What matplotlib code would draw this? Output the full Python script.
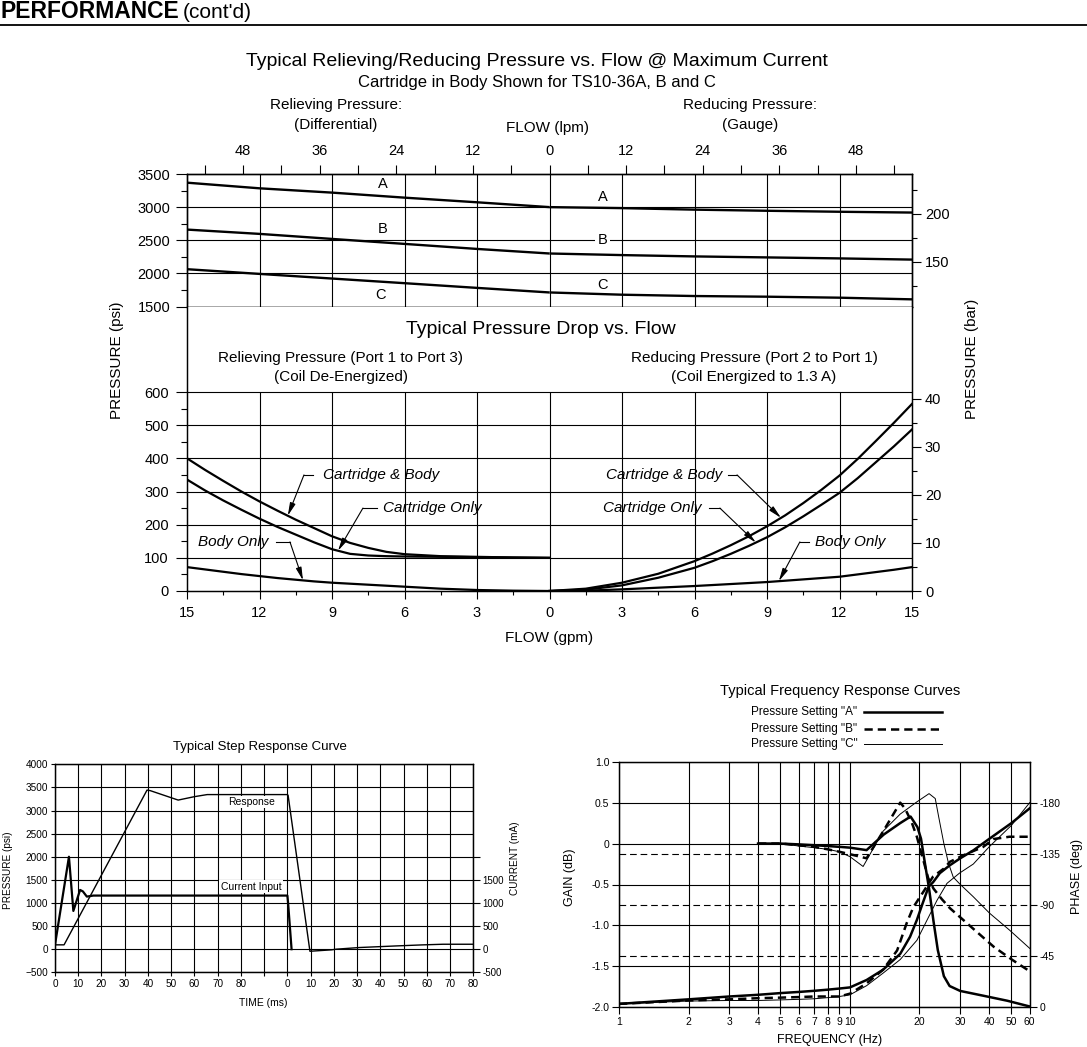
#!/usr/bin/env python
# -*- coding: utf-8 -*-
import numpy as np
import matplotlib
matplotlib.use('Agg')
import matplotlib.pyplot as plt
from matplotlib.lines import Line2D
from matplotlib.ticker import NullLocator

W, H = 1087, 1047
PSI_PER_BAR = 14.5038
LPM_PER_GPM = 3.78541

# relieving / reducing pressure @ max current (psi), flow in gpm
flow_gpm = [0, 3, 6, 9, 12, 15]
relieving_A = [3000, 3073, 3143, 3219, 3284, 3369]
relieving_B = [2300, 2369, 2445, 2520, 2596, 2661]
relieving_C = [1712, 1781, 1852, 1922, 1992, 2063]
reducing_A = [3000, 2985, 2962, 2945, 2930, 2918]
reducing_B = [2300, 2276, 2256, 2241, 2226, 2208]
reducing_C = [1712, 1678, 1658, 1648, 1633, 1608]

# pressure drop vs flow (psi)
drop_flow = [0, 1.5, 3, 4.5, 6, 6.75, 7.5, 8.25, 9, 9.75, 10.5, 11.25, 12, 12.75, 13.5, 14.25, 15]
relieve_cart_body = [100, 101, 103, 105, 111, 118, 130, 145, 165, 190, 215, 242, 270, 300, 332, 365, 400]
relieve_cart_only = [100, 101, 102, 103, 104, 105, 107, 112, 126, 147, 170, 193, 218, 245, 273, 303, 336]
relieve_body_only = [0, 1, 3, 7, 13, 16, 19, 22, 25, 29, 34, 39, 45, 51, 58, 65, 72]
reduce_cart_body = [0, 7, 25, 52, 90, 113, 138, 165, 195, 228, 265, 305, 348, 398, 452, 507, 564]
reduce_cart_only = [0, 4, 17, 40, 70, 90, 112, 136, 162, 192, 225, 260, 296, 340, 388, 436, 487]
reduce_body_only = [0, 1, 5, 10, 15, 18, 21, 24, 27, 31, 35, 39, 43, 50, 57, 64, 72]

# step response (time axis: 0-80 ms then a second 0-80 ms window starting at 100)
resp_t = [0, 3.9, 39.6, 41, 53, 60, 65.5, 100, 100.3, 109.7, 119, 121, 131, 147, 158, 167, 180]
resp_psi = [94, 94, 3442, 3430, 3226, 3300, 3345, 3345, 3330, -45, -14, 0, 36, 71, 93, 107, 107]
curr_t = [0, 6, 7.9, 10.8, 12, 13.7, 16.5, 100, 100.3, 101.8]
curr_ma = [94, 2000, 828, 1282, 1250, 1138, 1160, 1160, 1000, 0]

# frequency response
gain_A_f = [4, 5, 6, 7, 8, 9, 10, 11.8, 14, 16.5, 18.3, 19.6, 20.3, 21, 22, 23, 24, 25.5, 27, 30, 38, 48, 60]
gain_A = [0, 0, -0.01, -0.02, -0.03, -0.04, -0.05, -0.08, 0.11, 0.25, 0.33, 0.2, 0.06, -0.2, -0.55,
          -0.95, -1.3, -1.62, -1.74, -1.8, -1.86, -1.92, -1.99]
gain_B_f = [4, 5, 6, 7, 8, 9, 10, 11.8, 14, 16.5, 17.3, 18.5, 19.5, 20.2, 21, 21.8, 23, 25, 27.1, 30,
            34.8, 41.9, 50.4, 60]
gain_B = [0, 0, -0.02, -0.04, -0.07, -0.1, -0.13, -0.18, 0.16, 0.5, 0.43, 0.26, 0.08, -0.08, -0.25,
          -0.42, -0.55, -0.68, -0.79, -0.9, -1.06, -1.26, -1.42, -1.56]
gain_C_f = [4, 5, 6, 7, 8, 9, 10, 11.4, 13.9, 16.5, 19.5, 22, 23.4, 24.2, 25.5, 26.7, 28, 29.8, 34.2,
            40.2, 49.2, 60]
gain_C = [0, 0, -0.03, -0.05, -0.07, -0.1, -0.16, -0.28, 0.15, 0.36, 0.51, 0.61, 0.55, 0.33, 0.0,
          -0.24, -0.41, -0.49, -0.65, -0.85, -1.06, -1.28]
phase_A_f = [1, 2, 3, 4, 5, 6, 7, 8, 9, 10, 11.8, 13.9, 16.5, 18.2, 19.5, 20.6, 21.9, 22.9, 24.5, 27.1,
             30, 34.2, 40, 50, 60]
phase_A = [-3, -7, -9.5, -11, -12.5, -13.5, -14.5, -15.5, -16.5, -17.5, -24, -33, -47, -62, -77, -91,
           -106, -110, -118, -125, -131, -138, -148, -162, -175]
phase_B_f = [1, 2, 3, 4, 5, 6, 7, 8, 9, 10, 11.8, 13.9, 16, 17.6, 18.8, 21, 22.9, 25.5, 27.1, 32, 37.7,
             41.9, 49, 60]
phase_B = [-3, -6, -7, -8, -8.5, -9, -9.5, -9.5, -9.5, -12, -21, -33, -50, -74, -88, -103, -115, -122,
           -128, -135, -141, -148, -150, -150]
phase_C_f = [1, 2, 3, 4, 5, 6, 7, 8, 9, 10, 11.8, 13.9, 16.5, 19.5, 21.6, 23.8, 26.3, 29.8, 34.2, 40,
             50, 60]
phase_C = [-3, -5.5, -6, -6, -6.5, -7, -7.5, -8.5, -9.5, -11, -19, -30, -42, -59, -77, -94, -109, -118,
           -126, -141, -160, -180]
freq_ticks = [1, 2, 3, 4, 5, 6, 7, 8, 9, 10, 20, 30, 40, 50, 60]

plt.rcParams['font.family'] = ['Liberation Sans', 'DejaVu Sans']
fig = plt.figure(figsize=(W / 100, H / 100), dpi=100)
fig.patch.set_facecolor('white')


def px(x, y):
    return x / W, 1 - y / H


def box(l, t, r, b):
    return [l / W, 1 - b / H, (r - l) / W, (b - t) / H]


K = 'black'
LW_GRID = 0.8

# header
fig.text(*px(0, 12), 'PERFORMANCE', fontsize=16.5, weight='bold', va='center')
fig.text(*px(183, 12), "(cont'd)", fontsize=15, va='center')
fig.add_artist(Line2D([0, 1], [1 - 25 / H] * 2, color=K, lw=1.3))

fig.text(*px(537, 61), 'Typical Relieving/Reducing Pressure vs. Flow @ Maximum Current',
         fontsize=14, ha='center', va='center')
fig.text(*px(537, 82), 'Cartridge in Body Shown for TS10-36A, B and C', fontsize=12,
         ha='center', va='center')
fig.text(*px(336, 105), 'Relieving Pressure:', fontsize=11, ha='center', va='center')
fig.text(*px(336, 125), '(Differential)', fontsize=11, ha='center', va='center')
fig.text(*px(750, 105), 'Reducing Pressure:', fontsize=11, ha='center', va='center')
fig.text(*px(750, 125), '(Gauge)', fontsize=11, ha='center', va='center')
fig.text(*px(547, 128), 'FLOW (lpm)', fontsize=11, ha='center', va='center')

# ---------- upper panel ----------
ax_up = fig.add_axes(box(187, 174, 912, 306.5))
ax_up.set_xlim(-15, 15)
ax_up.set_ylim(1500, 3500)
for v in [-12, -9, -6, -3, 0, 3, 6, 9, 12]:
    ax_up.axvline(v, color=K, lw=LW_GRID, zorder=1)
for h in [2000, 2500, 3000]:
    ax_up.axhline(h, color=K, lw=LW_GRID, zorder=1)
f = np.array(flow_gpm)
for rel, red in [(relieving_A, reducing_A), (relieving_B, reducing_B), (relieving_C, reducing_C)]:
    ax_up.plot(-f, rel, color=K, lw=1.7, zorder=3, solid_capstyle='butt')
    ax_up.plot(f, red, color=K, lw=1.7, zorder=3, solid_capstyle='butt')
for lab, x, y in [('A', -6.9, 3352), ('B', -6.9, 2666), ('C', -7.0, 1675),
                  ('A', 2.2, 3154), ('C', 2.2, 1829)]:
    ax_up.text(x, y, lab, fontsize=10.5, ha='center', va='center')
ax_up.text(2.2, 2500, 'B', fontsize=10.5, ha='center', va='center', zorder=2,
           bbox=dict(facecolor='white', edgecolor='none', pad=2))

minor_x = sorted([s * v for v in np.arange(1.5, 15, 3) for s in (-1, 1)])
ax_up.set_xticks([])
ax_up.set_xticks(minor_x, minor=True)
ax_up.set_yticks(np.arange(1500, 3501, 500))
ax_up.set_yticks(np.arange(1750, 3300, 500), minor=True)
ax_up.tick_params(axis='x', which='minor', direction='out', length=9, width=0.8)
ax_up.tick_params(axis='y', which='major', length=8, width=0.8, labelsize=10.5, pad=4)
ax_up.tick_params(axis='y', which='minor', length=4, width=0.8)

ax_lpm = ax_up.twiny()
ax_lpm.set_xlim(-15, 15)
lpm_major = [-48, -36, -24, -12, 0, 12, 24, 36, 48]
lpm_minor = [-54, -42, -30, -18, -6, 6, 18, 30, 42, 54]
ax_lpm.set_xticks([v / LPM_PER_GPM for v in lpm_major])
ax_lpm.set_xticklabels([str(abs(v)) for v in lpm_major])
ax_lpm.set_xticks([v / LPM_PER_GPM for v in lpm_minor], minor=True)
ax_lpm.tick_params(which='both', direction='out', length=6.5, width=0.8, labelsize=10.5, pad=5)

ax_ub = ax_up.twinx()
ax_ub.set_ylim(1500 / PSI_PER_BAR, 3500 / PSI_PER_BAR)
ax_ub.set_yticks([150, 200])
ax_ub.set_yticks([125, 175, 225], minor=True)
ax_ub.tick_params(which='major', length=6.3, width=0.8, labelsize=10.5, pad=3)
ax_ub.tick_params(which='minor', length=3.6, width=0.8)
for a in (ax_up, ax_lpm, ax_ub):
    for s in a.spines.values():
        s.set_linewidth(0.9)

# ---------- lower panel (pressure drop) ----------
ytop = 600 * (591 - 306.5) / (591 - 392)
ax_lo = fig.add_axes(box(187, 306.5, 912, 591))
ax_lo.set_xlim(-15, 15)
ax_lo.set_ylim(0, ytop)
ax_lo.spines['top'].set_visible(False)
ax_lo.hlines(np.arange(100, 601, 100), -15, 15, color=K, lw=LW_GRID, zorder=1)
ax_lo.vlines([-12, -9, -6, -3, 0, 3, 6, 9, 12], 0, 600, color=K, lw=LW_GRID, zorder=1)
d = np.array(drop_flow)
for rel, red in [(relieve_cart_body, reduce_cart_body), (relieve_cart_only, reduce_cart_only),
                 (relieve_body_only, reduce_body_only)]:
    ax_lo.plot(-d, rel, color=K, lw=1.6, zorder=3)
    ax_lo.plot(d, red, color=K, lw=1.6, zorder=3)

gx = np.arange(-15, 16, 3)
ax_lo.set_xticks(gx)
ax_lo.set_xticklabels([str(abs(v)) for v in gx])
ax_lo.set_xticks(minor_x, minor=True)
ax_lo.set_yticks(np.arange(0, 601, 100))
ax_lo.set_yticks(np.arange(50, 600, 100), minor=True)
ax_lo.tick_params(axis='x', which='major', length=6, width=0.8, labelsize=10.5, pad=5)
ax_lo.tick_params(axis='x', which='minor', length=3, width=0.8)
ax_lo.tick_params(axis='y', which='major', length=8, width=0.8, labelsize=10.5, pad=5)
ax_lo.tick_params(axis='y', which='minor', length=4, width=0.8)

ax_lb = ax_lo.twinx()
ax_lb.set_ylim(0, ytop / PSI_PER_BAR)
ax_lb.spines['top'].set_visible(False)
ax_lb.set_yticks(np.arange(0, 41, 10))
ax_lb.set_yticks(np.arange(5, 40, 10), minor=True)
ax_lb.tick_params(which='major', length=6.3, width=0.8, labelsize=10.5, pad=3)
ax_lb.tick_params(which='minor', length=3.6, width=0.8)
for a in (ax_lo, ax_lb):
    for s in a.spines.values():
        s.set_linewidth(0.9)

# leader annotations: label, text pos, ha, leader start, bend, tip flow (signed), curve
notes = [
    ('Cartridge & Body', (-9.39, 350), 'left', -9.77, -10.16, -10.83, relieve_cart_body),
    ('Cartridge Only', (-6.89, 250), 'left', -7.14, -7.72, -8.75, relieve_cart_only),
    ('Body Only', (-11.65, 148), 'right', -11.32, -10.74, -10.2, relieve_body_only),
    ('Cartridge & Body', (7.14, 350), 'right', 7.39, 7.76, 9.58, reduce_cart_body),
    ('Cartridge Only', (6.27, 250), 'right', 6.6, 7.05, 8.54, reduce_cart_only),
    ('Body Only', (10.98, 148), 'left', 10.74, 10.36, 9.49, reduce_body_only),
]
for lab, (tx, ty), ha, x0, xb, xt, curve in notes:
    ax_lo.text(tx, ty, lab, fontsize=11, style='italic', ha=ha, va='center')
    ax_lo.plot([x0, xb], [ty, ty], color=K, lw=0.8)
    yt = np.interp(abs(xt), drop_flow, curve)
    ax_lo.annotate('', xy=(xt, yt), xytext=(xb, ty),
                   arrowprops=dict(arrowstyle='-|>,head_length=0.55,head_width=0.12',
                                   color=K, lw=0.8, mutation_scale=14, shrinkA=0, shrinkB=0))

fig.text(*px(541, 330), 'Typical Pressure Drop vs. Flow', fontsize=14, ha='center', va='center')
fig.text(*px(340.5, 358), 'Relieving Pressure (Port 1 to Port 3)', fontsize=11, ha='center', va='center')
fig.text(*px(341.5, 377), '(Coil De-Energized)', fontsize=11, ha='center', va='center')
fig.text(*px(754.5, 358), 'Reducing Pressure (Port 2 to Port 1)', fontsize=11, ha='center', va='center')
fig.text(*px(754, 377), '(Coil Energized to 1.3 A)', fontsize=11, ha='center', va='center')
fig.text(*px(549, 638), 'FLOW (gpm)', fontsize=11, ha='center', va='center')
fig.text(*px(117, 360), 'PRESSURE (psi)', fontsize=11, rotation=90, ha='center', va='center')
fig.text(*px(972, 359), 'PRESSURE (bar)', fontsize=11, rotation=90, ha='center', va='center')

# ---------- step response ----------
ax_s = fig.add_axes(box(55, 764.3, 473.3, 972.3))
ax_s.set_xlim(0, 180)
ax_s.set_ylim(-500, 4000)
st = np.arange(0, 181, 10)
ax_s.set_xticks(st)
ax_s.set_xticklabels([str(t) if t <= 80 else ('' if t == 90 else str(t - 100)) for t in st])
ax_s.set_yticks(np.arange(-500, 4001, 500))
ax_s.grid(True, color=K, lw=0.8)
ax_s.set_axisbelow(True)
ax_s.plot(resp_t, resp_psi, color=K, lw=1.0, zorder=3)
ax_s.plot(curr_t, curr_ma, color=K, lw=1.6, zorder=3)
ax_s.text(84.7, 3184, 'Response', fontsize=7.5, ha='center', va='center', zorder=4,
          bbox=dict(facecolor='white', edgecolor='none', pad=1))
ax_s.text(84.3, 1352, 'Current Input', fontsize=7.5, ha='center', va='center', zorder=4,
          bbox=dict(facecolor='white', edgecolor='none', pad=1))
ax_s.tick_params(length=3, width=0.8, labelsize=7.2, pad=2)
ax_sc = ax_s.twinx()
ax_sc.set_ylim(-500, 4000)
ax_sc.set_yticks([-500, 0, 500, 1000, 1500, 2000])
ax_sc.set_yticklabels(['-500', '0', '500', '1000', '1500', ''])
ax_sc.tick_params(length=5, width=0.8, labelsize=7, pad=1.5)
for a in (ax_s, ax_sc):
    for s in a.spines.values():
        s.set_linewidth(0.9)
fig.text(*px(260, 747), 'Typical Step Response Curve', fontsize=9.5, ha='center', va='center')
fig.text(*px(263, 1003), 'TIME (ms)', fontsize=7.5, ha='center', va='center')
fig.text(*px(8, 870), 'PRESSURE (psi)', fontsize=7.2, rotation=90, ha='center', va='center')
fig.text(*px(515, 858), 'CURRENT (mA)', fontsize=7.2, rotation=90, ha='center', va='center')

# ---------- frequency response ----------
ax_f = fig.add_axes(box(619, 761.7, 1029.7, 1007.3))
ax_f.set_xscale('log')
ax_f.set_xlim(1, 60)
ax_f.set_ylim(-2, 1)
ax_f.set_xticks(freq_ticks)
ax_f.set_xticklabels([str(v) for v in freq_ticks])
ax_f.xaxis.set_minor_locator(NullLocator())
ax_f.set_yticks([-2, -1.5, -1, -0.5, 0, 0.5, 1])
ax_f.set_yticklabels(['-2.0', '-1.5', '-1.0', '-0.5', '0', '0.5', '1.0'])
ax_f.grid(True, color=K, lw=0.8)
ax_f.set_axisbelow(True)
ax_f.tick_params(length=5, width=0.8, labelsize=7.5, pad=2)
ax_p = ax_f.twinx()
ax_p.set_ylim(0, -216)
ax_p.set_yticks([0, -45, -90, -135, -180])
ax_p.set_yticklabels(['0', '-45', '-90', '-135', '-180'])
ax_p.tick_params(length=5, width=0.8, labelsize=7.5, pad=2)
for ph in [-45, -90, -135]:
    ax_p.axhline(ph, color=K, lw=0.8, dashes=(6, 3.5), zorder=1)

styleA = dict(color=K, lw=1.8)
styleB = dict(color=K, lw=1.8, dashes=(3.3, 2))
styleC = dict(color=K, lw=0.7)
ax_f.plot(gain_A_f, gain_A, **styleA)
ax_f.plot(gain_B_f, gain_B, **styleB)
ax_f.plot(gain_C_f, gain_C, **styleC)
ax_p.plot(phase_A_f, phase_A, **styleA)
ax_p.plot(phase_B_f, phase_B, **styleB)
ax_p.plot(phase_C_f, phase_C, **styleC)
for a in (ax_f, ax_p):
    for s in a.spines.values():
        s.set_linewidth(0.9)

fig.text(*px(840, 691), 'Typical Frequency Response Curves', fontsize=10.5, ha='center', va='center')
for lab, yy, st_ in [('Pressure Setting "A"', 712.3, styleA), ('Pressure Setting "B"', 729.3, styleB),
                     ('Pressure Setting "C"', 744.3, styleC)]:
    fig.text(*px(857.5, yy), lab, fontsize=8.5, ha='right', va='center')
    fig.add_artist(Line2D([864 / W, 942 / W], [1 - yy / H] * 2, transform=fig.transFigure, **st_))
fig.text(*px(830, 1040), 'FREQUENCY (Hz)', fontsize=9, ha='center', va='center')
fig.text(*px(570, 877), 'GAIN (dB)', fontsize=9, rotation=90, ha='center', va='center')
fig.text(*px(1077, 877), 'PHASE (deg)', fontsize=9, rotation=90, ha='center', va='center')

fig.savefig('out.png', dpi=100)
